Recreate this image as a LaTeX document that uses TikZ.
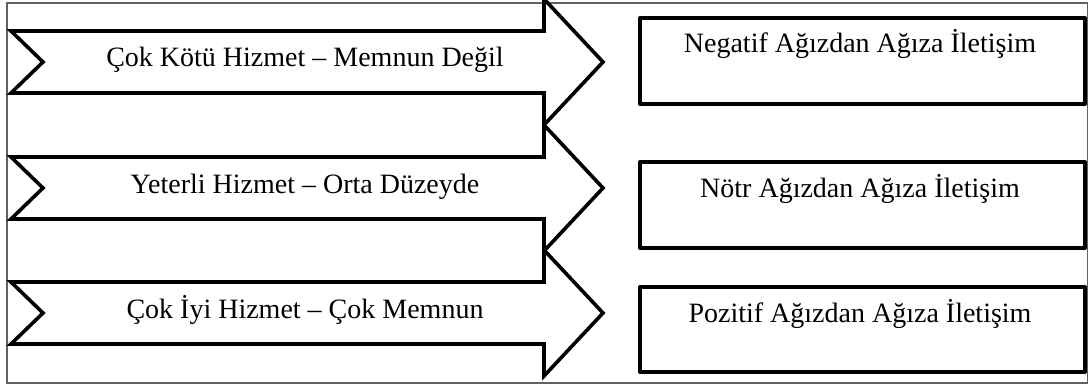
\documentclass[tikz,border=0pt]{standalone}
\usepackage{fontspec}
\setmainfont{Liberation Serif}
\begin{document}
\begin{tikzpicture}[x=1pt,y=-1pt,
  frameline/.style={draw=black!62,line width=1.4pt},
  arrowline/.style={draw=black,fill=white,line width=3.6pt,miter limit=10},
  boxnode/.style={draw=black,line width=4pt,line join=round,minimum width=445pt,minimum height=86pt,anchor=north west,inner sep=0pt},
  lbl/.style={font=\fontsize{28}{30}\selectfont,anchor=base,inner sep=0pt},
  notcharrow/.pic={
    \path[arrowline] (11,-31) -- (544,-31) -- (544,-63) -- (603,0) -- (544,63) -- (544,31) -- (11,31) -- (43,0) -- cycle;
  }]
\useasboundingbox (0,0) rectangle (1089,385);
\path[frameline] (7,3) rectangle (1087.5,383);
% arrows
\pic at (0,62) {notcharrow};
\pic at (0,188) {notcharrow};
\pic at (0,313) {notcharrow};
\node[lbl] (a1) at (305,67) {Çok Kötü Hizmet – Memnun Değil};
\node[lbl] (a2) at (305,193) {Yeterli Hizmet – Orta Düzeyde};
\node[lbl] (a3) at (305,318) {Çok İyi Hizmet – Çok Memnun};
% boxes
\node[boxnode] (b1) at (638,16) {};
\node[boxnode] (b2) at (638,160) {};
\node[boxnode,minimum height=85pt] (b3) at (638,285) {};
\node[lbl] (t1) at (860,53) {Negatif Ağızdan Ağıza İletişim};
\node[lbl] (t2) at (860,197) {Nötr Ağızdan Ağıza İletişim};
\node[lbl] (t3) at (860,322) {Pozitif Ağızdan Ağıza İletişim};
\end{tikzpicture}
\end{document}
